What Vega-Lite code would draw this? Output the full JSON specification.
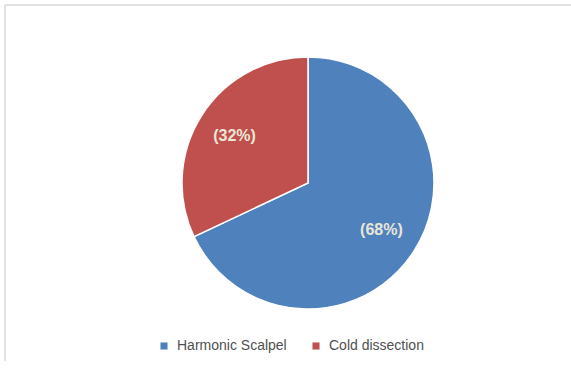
{
  "$schema": "https://vega.github.io/schema/vega-lite/v6.json",
  "autosize": "none",
  "width": 606,
  "height": 356,
  "padding": {"left": 5, "top": 5, "right": 0, "bottom": 0},
  "background": "white",
  "view": {"stroke": "#d9d9d9", "strokeWidth": 1.5, "strokeDash": [606, 962, 356, 0]},
  "data": {"values": [
    {"method": "Harmonic Scalpel", "share": 68, "label": "(68%)", "order": 1},
    {"method": "Cold dissection", "share": 32, "label": "(32%)", "order": 2}
  ]},
  "encoding": {
    "theta": {"field": "share", "type": "quantitative", "stack": true},
    "order": {"field": "order", "type": "quantitative"}
  },
  "layer": [
    {
      "mark": {"type": "arc", "outerRadius": 126, "stroke": "white", "strokeWidth": 1.5},
      "encoding": {
        "color": {
          "field": "method", "type": "nominal",
          "scale": {"domain": ["Harmonic Scalpel", "Cold dissection"], "range": ["#4F81BD", "#C0504D"]},
          "legend": {
            "title": null, "orient": "none", "direction": "horizontal",
            "legendX": 152, "legendY": 334,
            "symbolType": "square", "symbolSize": 50, "symbolStrokeWidth": 0,
            "labelFont": "Liberation Sans", "labelFontSize": 14, "labelColor": "#505050",
            "columnPadding": 22, "labelOffset": 6
          }
        }
      }
    },
    {
      "mark": {"type": "text", "radius": 87, "font": "Liberation Sans", "fontSize": 16, "fontWeight": "bold", "color": "#EAE6D6"},
      "encoding": {"text": {"field": "label"}}
    }
  ]
}
